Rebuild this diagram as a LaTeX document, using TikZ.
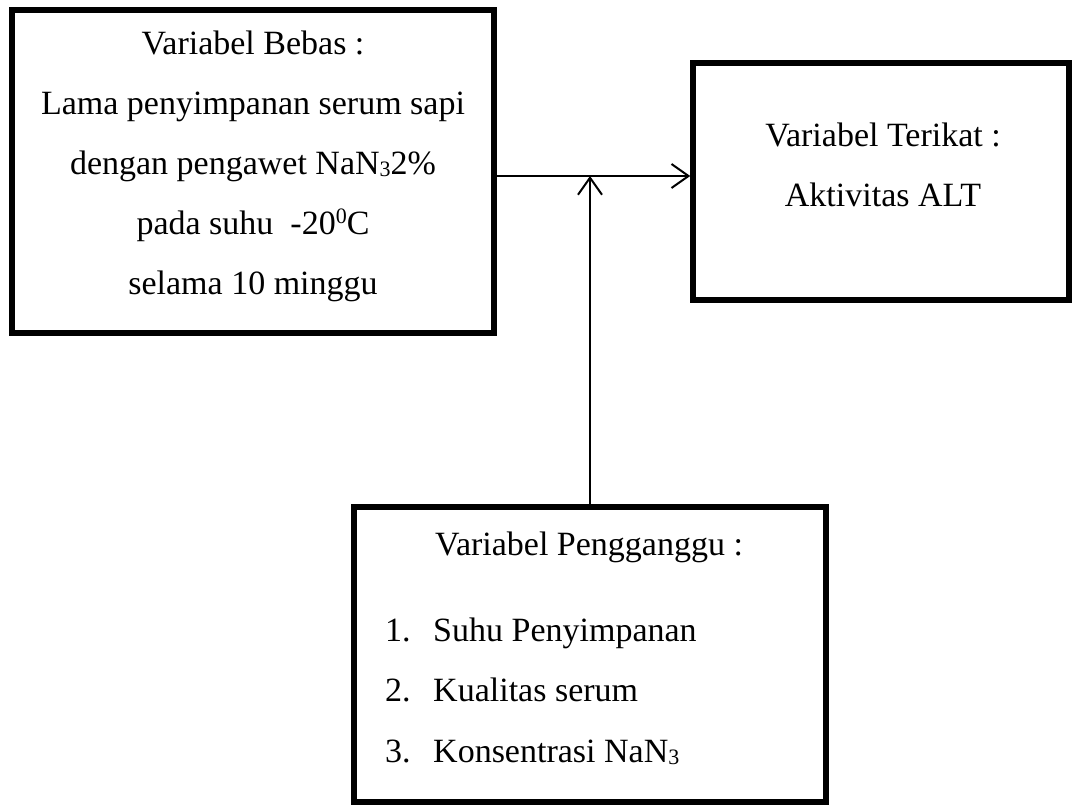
\documentclass[tikz,border=0pt]{standalone}
\usepackage{fontspec}
\setmainfont{Liberation Serif}
\usetikzlibrary{arrows.meta}
\newcommand{\mysub}[1]{{\fontsize{22}{22}\selectfont\raisebox{-2pt}{#1}}}
\newcommand{\mysup}[1]{{\fontsize{22}{22}\selectfont\raisebox{11pt}{#1}}}
\tikzset{
  box/.style={draw=black, line width=5.5pt, rectangle, inner sep=0pt},
  txt/.style={anchor=base, inner sep=0pt, font=\fontsize{34}{40}\selectfont},
  ltxt/.style={anchor=base west, inner sep=0pt, font=\fontsize{34}{40}\selectfont},
  arr/.style={line width=2pt, -{Straight Barb[length=17pt,width=24pt,line width=2pt]}}
}
\begin{document}
\begin{tikzpicture}[x=1pt,y=-1pt]
\useasboundingbox (0,0) rectangle (1072,805);
% boxes
\node[box, minimum width=482pt, minimum height=323pt] (bebas) at (253,171.5) {};
\node[box, minimum width=376pt, minimum height=237pt] (terikat) at (881,181.5) {};
\node[box, minimum width=472pt, minimum height=295pt] (ganggu) at (590,654.5) {};
% texts box 1
\node[txt] (b1) at (253,55) {Variabel Bebas :};
\node[txt] (b2) at (253,115) {Lama penyimpanan serum sapi};
\node[txt] (b3) at (253,175) {dengan pengawet NaN\mysub{3}2\%};
\node[txt] (b4) at (253,235) {pada suhu\ \ -20\mysup{0}C};
\node[txt] (b5) at (253,295) {selama 10 minggu};
% texts box 2
\node[txt] (t1) at (883,147) {Variabel Terikat :};
\node[txt] (t2) at (883,207) {Aktivitas ALT};
% texts box 3
\node[ltxt] (g0) at (435,555) {Variabel Pengganggu :};
\node[ltxt] (n1) at (385,641) {1.};
\node[ltxt] (g1) at (433,641) {Suhu Penyimpanan};
\node[ltxt] (n2) at (385,701) {2.};
\node[ltxt] (g2) at (433,701) {Kualitas serum};
\node[ltxt] (n3) at (385,762) {3.};
\node[ltxt] (g3) at (433,762) {Konsentrasi NaN\mysub{3}};
% connectors
\coordinate (j) at (590,176);
\draw[arr] (bebas.east |- j) -- (terikat.west |- j);
\draw[arr] (ganggu.north) -- (j);
\end{tikzpicture}
\end{document}
